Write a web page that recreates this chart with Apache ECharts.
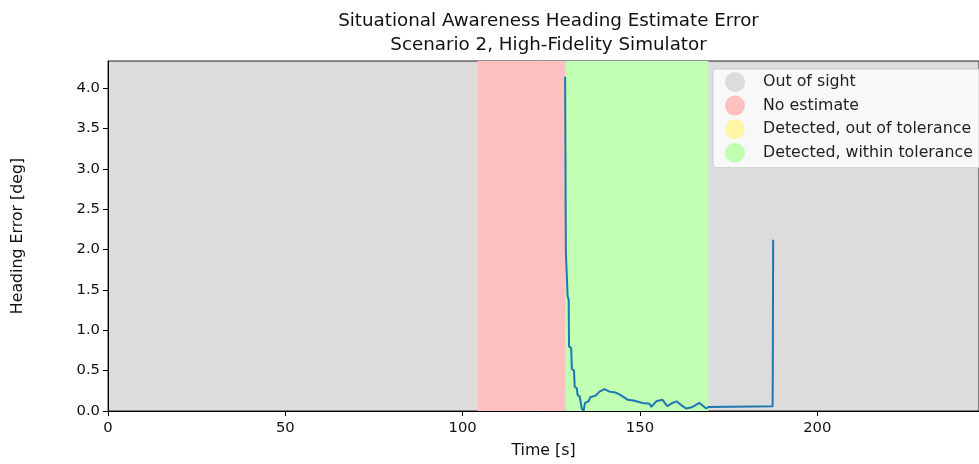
<!DOCTYPE html>
<html>
<head>
<meta charset="utf-8">
<script src="https://cdn.jsdelivr.net/npm/echarts@6/dist/echarts.min.js"></script>
<style>html,body{margin:0;padding:0;background:#fff;}#c{width:979px;height:464px;}</style>
</head>
<body>
<div id="c"></div>
<script>
// Data
const times = [128.9, 129.1, 129.5, 129.6, 129.9, 130.0, 130.6, 130.8, 131.4, 131.6, 132.2, 132.4, 133.0, 133.6, 134.1, 134.5, 135.5, 136.0, 137.5, 138.6, 140.0, 141.4, 143.1, 144.8, 146.5, 148.2, 150.7, 152.7, 153.2, 154.6, 156.3, 157.7, 159.2, 160.3, 161.7, 163.1, 164.8, 166.8, 167.9, 168.7, 169.3, 169.6, 187.4, 187.45, 187.5, 187.55];
const errors = [4.14, 1.98, 1.96, 1.42, 1.38, 0.80, 0.78, 0.52, 0.50, 0.30, 0.28, 0.20, 0.18, 0.03, 0.00, 0.10, 0.12, 0.17, 0.19, 0.24, 0.27, 0.24, 0.23, 0.19, 0.14, 0.13, 0.10, 0.09, 0.05, 0.12, 0.14, 0.06, 0.10, 0.12, 0.07, 0.03, 0.05, 0.10, 0.06, 0.03, 0.05, 0.06, 0.06, 0.41, 1.18, 2.12];

const regionNames = ['Out of sight', 'No estimate', 'Detected, out of tolerance', 'Detected, within tolerance'];
const regionColors = ['#dcdcdc', '#ffc0c0', '#fff5a6', '#c1ffb2'];
// spans per region: [start, end]
const regionSpans = [
  [],
  [[104.2, 129.0]],
  [],
  [[129.0, 169.3]]
];

const xTicks = [0, 50, 100, 150, 200];
const yTicks = [0.0, 0.5, 1.0, 1.5, 2.0, 2.5, 3.0, 3.5, 4.0];
const xMax = 245.6;
const yMax = 4.335;

const font = 'DejaVu Sans';
const chart = echarts.init(document.getElementById('c'));

const regionSeries = regionNames.map((n, i) => ({
  name: n,
  type: 'line',
  data: [],
  z: 1,
  itemStyle: { color: regionColors[i] },
  lineStyle: { color: regionColors[i] },
  markArea: {
    silent: true,
    itemStyle: { color: regionColors[i], opacity: 1 },
    data: regionSpans[i].map(s => [{ xAxis: s[0] }, { xAxis: s[1] }])
  }
}));

chart.setOption({
  animation: false,
  backgroundColor: '#ffffff',
  title: {
    text: 'Situational Awareness Heading Estimate Error\nScenario 2, High-Fidelity Simulator',
    left: 543.5,
    top: 4,
    textAlign: 'center',
    textStyle: { fontFamily: font, fontSize: 18.3, fontWeight: 'normal', color: '#111', lineHeight: 24 }
  },
  legend: {
    data: regionNames,
    orient: 'vertical',
    left: 713,
    top: 69,
    padding: [3, 8, 5, 12],
    itemWidth: 20,
    itemHeight: 20,
    itemGap: 3.6,
    icon: 'circle',
    backgroundColor: 'rgba(255,255,255,0.8)',
    borderColor: '#cccccc',
    borderWidth: 1,
    borderRadius: 3,
    selectedMode: false,
    textStyle: { fontFamily: font, fontSize: 15.8, color: '#222', padding: [0, 0, 0, 13] }
  },
  grid: {
    left: 108, right: -1, top: 61, bottom: 53,
    show: true,
    backgroundColor: '#dcdcdc',
    borderColor: '#222',
    borderWidth: 1
  },
  xAxis: {
    type: 'value',
    min: 0, max: xMax,
    name: 'Time [s]',
    nameLocation: 'middle',
    nameGap: 32,
    nameTextStyle: { fontFamily: font, fontSize: 15.8, color: '#111' },
    axisLine: { show: true, onZero: false, lineStyle: { color: '#000', width: 1 } },
    axisTick: { show: true, length: 5, lineStyle: { color: '#000' }, customValues: xTicks },
    axisLabel: { fontFamily: font, fontSize: 14.8, color: '#111', margin: 10, customValues: xTicks },
    splitLine: { show: false }
  },
  yAxis: {
    type: 'value',
    min: 0, max: yMax,
    name: 'Heading Error [deg]',
    nameLocation: 'middle',
    nameGap: 82,
    nameTextStyle: { fontFamily: font, fontSize: 15.8, color: '#111' },
    axisLine: { show: true, onZero: false, lineStyle: { color: '#000', width: 1 } },
    axisTick: { show: true, length: 5, lineStyle: { color: '#000' }, customValues: yTicks },
    axisLabel: { fontFamily: font, fontSize: 14.8, color: '#111', margin: 8, customValues: yTicks,
      formatter: v => v.toFixed(1) },
    splitLine: { show: false }
  },
  series: regionSeries.concat([{
    name: 'Heading error',
    type: 'line',
    z: 5,
    data: times.map((t, i) => [t, errors[i]]),
    showSymbol: false,
    symbol: 'none',
    lineStyle: { color: '#1f77b4', width: 2 },
    itemStyle: { color: '#1f77b4' }
  }])
});
</script>
</body>
</html>
